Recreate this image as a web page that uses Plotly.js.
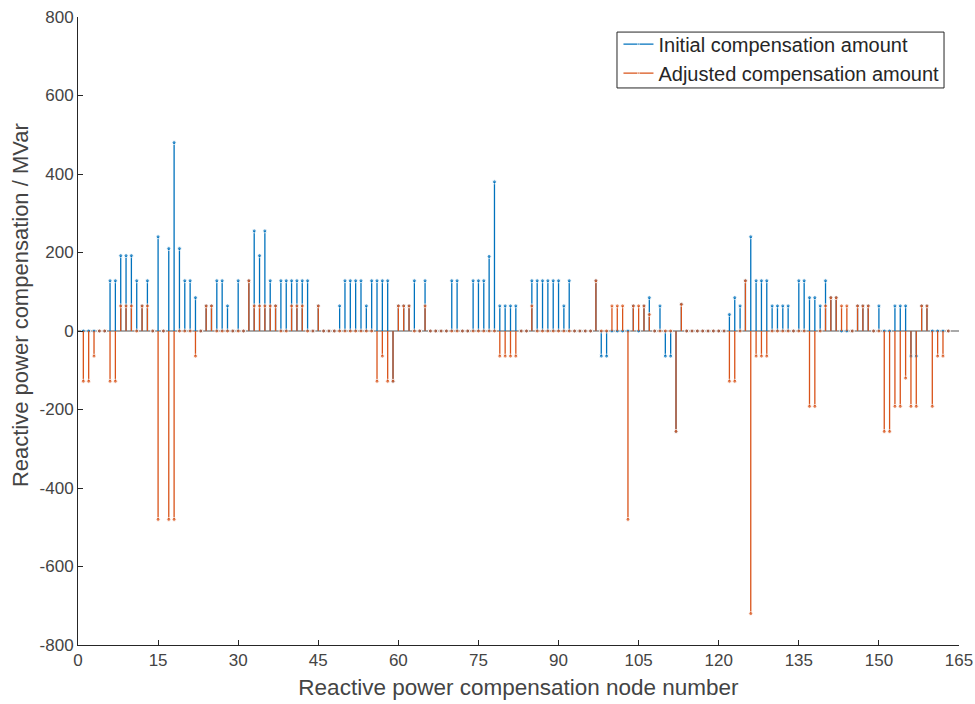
<!DOCTYPE html>
<html>
<head>
<meta charset="utf-8">
<script src="https://cdn.plot.ly/plotly-3.0.1.min.js"></script>
<style>html,body{margin:0;padding:0;background:#fff;}#chart{width:975px;height:704px;}</style>
</head>
<body>
<div id="chart"></div>
<script>
// Node numbers 1..163
const nodes = [];
for (let i = 1; i <= 163; i++) nodes.push(i);

// Initial compensation amount (MVar), nodes 1..163
const initialAmount = [
  0, 0, 0, 0, 0, 128, 128, 192, 192, 192,        // 1-10
  128, 64, 128, 0, 240, 0, 210, 480, 210, 128,   // 11-20
  128, 85, 0, 64, 64, 128, 128, 64, 0, 128,      // 21-30
  0, 128, 255, 192, 255, 128, 64, 128, 128, 128, // 31-40
  128, 128, 128, 0, 64, 0, 0, 0, 64, 128,        // 41-50
  128, 128, 128, 64, 128, 128, 128, 128, -128, 64, // 51-60
  64, 64, 128, 0, 128, 0, 0, 0, 0, 128,          // 61-70
  128, 0, 0, 128, 128, 128, 190, 380, 64, 64,    // 71-80
  64, 64, 0, 0, 128, 128, 128, 128, 128, 128,    // 81-90
  64, 128, 0, 0, 0, 0, 128, -64, -64, 0,         // 91-100
  0, 0, 0, 64, 0, 64, 85, 0, 64, -64,            // 101-110
  -64, -256, 68, 0, 0, 0, 0, 0, 0, 0,            // 111-120
  0, 42, 85, 64, 128, 240, 128, 128, 128, 64,    // 121-130
  64, 64, 64, 0, 128, 128, 85, 85, 64, 128,      // 131-140
  85, 85, 0, 0, 0, 64, 64, 64, 0, 64,            // 141-150
  0, 0, 64, 64, 64, -64, -64, 64, 64, 0,         // 151-160
  0, 0, 0                                        // 161-163
];

// Adjusted compensation amount (MVar), nodes 1..163
const adjustedAmount = [
  -128, -128, -64, 0, 0, -128, -128, 64, 64, 64, // 1-10
  0, 64, 64, 0, -480, 0, -480, -480, 0, 0,       // 11-20
  0, -64, 0, 64, 64, 0, 0, 0, 0, 0,              // 21-30
  0, 128, 64, 64, 64, 64, 64, 0, 0, 64,          // 31-40
  64, 64, 0, 0, 64, 0, 0, 0, 0, 0,               // 41-50
  0, 0, 0, 0, 0, -128, -64, -128, -128, 64,      // 51-60
  64, 64, 0, 0, 64, 0, 0, 0, 0, 0,               // 61-70
  0, 0, 0, 0, 0, 0, 0, 0, -64, -64,              // 71-80
  -64, -64, 0, 0, 64, 0, 0, 0, 0, 0,             // 81-90
  0, 0, 0, 0, 0, 0, 128, 0, 0, 64,               // 91-100
  64, 64, -480, 64, 64, 64, 42, 0, 0, 0,         // 101-110
  0, -256, 68, 0, 0, 0, 0, 0, 0, 0,              // 111-120
  0, -128, -128, 0, 128, -720, -64, -64, -64, 0, // 121-130
  0, 0, 0, 0, 0, 0, -192, -192, 0, 64,           // 131-140
  85, 85, 64, 64, 0, 64, 64, 64, 0, 0,           // 141-150
  -256, -256, -192, -192, -120, -192, -192, 64, 64, -192, // 151-160
  -64, -64, 0                                    // 161-163
];

const xTicks = [0, 15, 30, 45, 60, 75, 90, 105, 120, 135, 150, 165];
const yTicks = [-800, -600, -400, -200, 0, 200, 400, 600, 800];

function stemArrays(xs, ys) {
  const x = [], y = [], s = [];
  for (let i = 0; i < xs.length; i++) {
    x.push(xs[i], xs[i], null);
    y.push(0, ys[i], null);
    s.push(0, 4, 0);
  }
  return {x, y, s};
}

const a = stemArrays(nodes, initialAmount);
const b = stemArrays(nodes, adjustedAmount);

const blue = '#0072BD', orange = '#D95319';

const traces = [
  {
    type: 'scatter', mode: 'lines+markers', name: 'Initial compensation amount',
    x: a.x, y: a.y, connectgaps: false,
    line: {color: blue, width: 1.3},
    marker: {color: blue, size: a.s, symbol: 'circle'},
    hoverinfo: 'skip'
  },
  {
    type: 'scatter', mode: 'lines+markers', name: 'Adjusted compensation amount',
    x: b.x, y: b.y, connectgaps: false,
    line: {color: orange, width: 1.3},
    marker: {color: orange, size: b.s, symbol: 'circle'},
    hoverinfo: 'skip'
  }
];

const fam = '"Liberation Sans", Arial, Helvetica, sans-serif';
const txt = '#444444';

const layout = {
  width: 975, height: 704,
  margin: {l: 78, r: 16, t: 17, b: 59},
  paper_bgcolor: '#ffffff', plot_bgcolor: '#ffffff',
  font: {family: fam, color: txt},
  showlegend: true,
  legend: {
    x: 0.9835, xanchor: 'right', y: 0.988, yanchor: 'top',
    bgcolor: 'rgba(0,0,0,0)', borderwidth: 0,
    font: {family: fam, size: 20, color: '#262626'},
    tracegroupgap: 0, itemwidth: 30
  },
  xaxis: {
    range: [0, 165], tickvals: xTicks, ticktext: xTicks.map(String),
    showgrid: false, zeroline: false,
    showline: true, linecolor: '#262626', linewidth: 1,
    ticks: 'inside', ticklen: 5, tickcolor: '#262626',
    tickfont: {family: fam, size: 17, color: txt},
    title: {text: 'Reactive power compensation node number', font: {family: fam, size: 22.5, color: txt}, standoff: 9}
  },
  yaxis: {
    range: [-800, 800], tickvals: yTicks, ticktext: yTicks.map(String),
    showgrid: false, zeroline: false,
    showline: true, linecolor: '#262626', linewidth: 1,
    ticks: 'inside', ticklen: 5, tickcolor: '#262626',
    tickfont: {family: fam, size: 17, color: txt}
  },
  annotations: [{
    text: 'Reactive power compensation / MVar', textangle: -90,
    xref: 'paper', yref: 'paper', x: -0.066, y: 0.541,
    xanchor: 'center', yanchor: 'middle', showarrow: false,
    font: {family: fam, size: 22, color: txt}
  }],
  shapes: [
    {
      type: 'line', xref: 'paper', x0: 0, x1: 1, yref: 'y', y0: 0, y1: 0,
      line: {color: '#8c8c8c', width: 1.5}, layer: 'below'
    },
    {
      type: 'rect', xref: 'paper', yref: 'paper',
      x0: 0.6118, x1: 0.983, y0: 0.887, y1: 0.976,
      fillcolor: '#ffffff', line: {color: '#262626', width: 1}, layer: 'above'
    }
  ]
};

Plotly.newPlot('chart', traces, layout, {displayModeBar: false, staticPlot: true});
</script>
</body>
</html>
